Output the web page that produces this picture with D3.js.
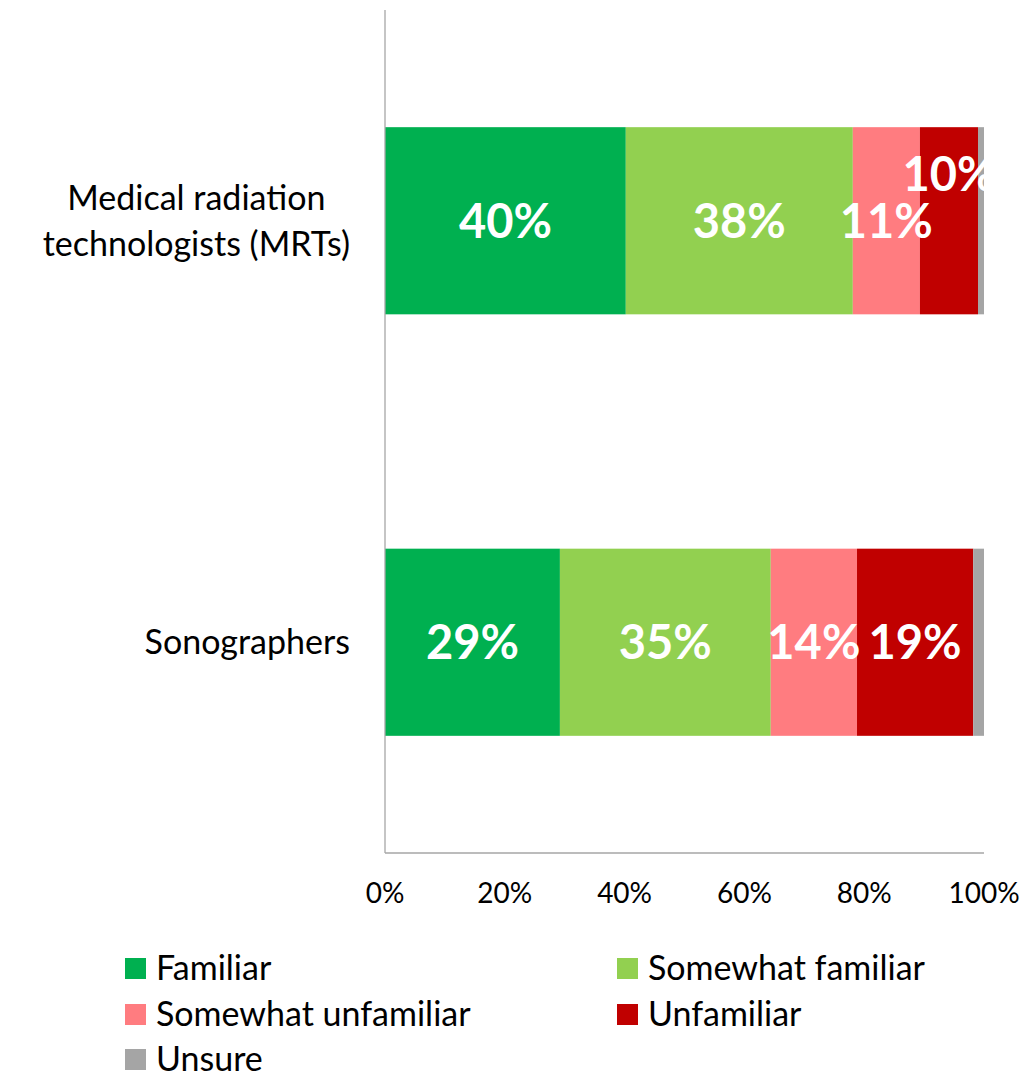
<!DOCTYPE html>
<html>
<head>
<meta charset="utf-8">
<script src="https://cdn.jsdelivr.net/npm/d3@7"></script>
<style>
  body { margin: 0; background: #fff; }
  text { font-family: Lato, "Open Sans", sans-serif; }
</style>
</head>
<body>
<div class="chart"></div>
<script>
// data
var categories = ["Medical radiation\ntechnologists (MRTs)", "Sonographers"];
var seriesNames = ["Familiar", "Somewhat familiar", "Somewhat unfamiliar", "Unfamiliar", "Unsure"];
var familiar           = [40.2, 29.2];
var somewhatFamiliar   = [37.9, 35.2];
var somewhatUnfamiliar = [11.2, 14.4];
var unfamiliar         = [9.7, 19.4];
var unsure             = [1.0, 1.8];
var labelText = [["40%", "38%", "11%", "10%", ""], ["29%", "35%", "14%", "19%", ""]];
var tickValues = [0, 20, 40, 60, 80, 100];

var colors = ["#00b050", "#92d050", "#ff7c80", "#c00000", "#a5a5a5"];
var seriesValues = [familiar, somewhatFamiliar, somewhatUnfamiliar, unfamiliar, unsure];

// setup
var W = 1024, H = 1081;
var margin = {top: 10, left: 385, right: 40, bottom: 228},
    width = 984 - margin.left,
    height = 853 - margin.top;

var svg = d3.select(".chart").append("svg")
    .attr("width", W)
    .attr("height", H);

var g = svg.append("g")
    .attr("transform", "translate(" + margin.left + "," + margin.top + ")");

var x = d3.scaleLinear().domain([0, 100]).range([0, width]);
var y = d3.scaleBand().domain(categories).range([0, height])
    .paddingInner(0.556).paddingOuter(0.278);

// stack rows
var rows = categories.map(function(c, i) {
  var o = {cat: c};
  seriesNames.forEach(function(s, j) { o[s] = seriesValues[j][i]; });
  return o;
});
var stacked = d3.stack().keys(seriesNames)(rows);

stacked.forEach(function(layer, j) {
  g.selectAll(".bar" + j)
    .data(layer)
    .enter().append("rect")
      .attr("x", function(d) { return x(d[0]); })
      .attr("width", function(d) { return x(d[1]) - x(d[0]); })
      .attr("y", function(d) { return y(d.data.cat); })
      .attr("height", y.bandwidth())
      .attr("fill", colors[j]);
});

// data labels
stacked.forEach(function(layer, j) {
  layer.forEach(function(d, i) {
    var t = labelText[i][j];
    if (!t) return;
    // the MRT "Unfamiliar" label sits higher, as in the original
    var nudge = (i === 0 && j === 3) ? -47 : 0;
    g.append("text")
      .attr("x", x((d[0] + d[1]) / 2))
      .attr("y", y(d.data.cat) + y.bandwidth() / 2 + nudge)
      .attr("dy", "0.36em")
      .attr("text-anchor", "middle")
      .attr("fill", "#fff")
      .style("font-weight", "bold")
      .style("font-size", "47px")
      .text(t);
  });
});

// axes
g.append("line")
  .attr("x1", 0).attr("x2", 0).attr("y1", 0).attr("y2", height)
  .attr("stroke", "#a6a6a6").attr("stroke-width", 1.3);
g.append("line")
  .attr("x1", 0).attr("x2", width).attr("y1", height).attr("y2", height)
  .attr("stroke", "#a6a6a6").attr("stroke-width", 1.3);

g.selectAll(".tick")
  .data(tickValues)
  .enter().append("text")
    .attr("x", function(d) { return x(d); })
    .attr("y", height + 40)
    .attr("dy", "0.36em")
    .attr("text-anchor", "middle")
    .style("font-size", "28px")
    .attr("fill", "#000")
    .text(function(d) { return d + "%"; });

// category labels
categories.forEach(function(c) {
  var lines = c.split("\n");
  var lh = 46;
  var cy = y(c) + y.bandwidth() / 2 - (lines.length - 1) * lh / 2;
  var t = g.append("text")
    .attr("text-anchor", "middle")
    .style("font-size", "34px")
    .attr("fill", "#000");
  lines.forEach(function(l, k) {
    t.append("tspan").attr("x", 0).attr("y", cy + k * lh).attr("dy", "0.36em").text(l);
  });
  var bw = t.node().getBBox().width;
  t.attr("transform", "translate(" + (-35 - bw / 2) + ",0)");
});

// legend
var legend = svg.append("g");
var legX = [125, 617], legY = [968, 1014, 1059];
seriesNames.forEach(function(s, j) {
  var lx = legX[j % 2], ly = legY[Math.floor(j / 2)];
  legend.append("rect")
    .attr("x", lx).attr("y", ly - 10)
    .attr("width", 21).attr("height", 21)
    .attr("fill", colors[j]);
  legend.append("text")
    .attr("x", lx + 31).attr("y", ly)
    .attr("dy", "0.36em")
    .style("font-size", "34px")
    .attr("fill", "#000")
    .text(s);
});
</script>
</body>
</html>
